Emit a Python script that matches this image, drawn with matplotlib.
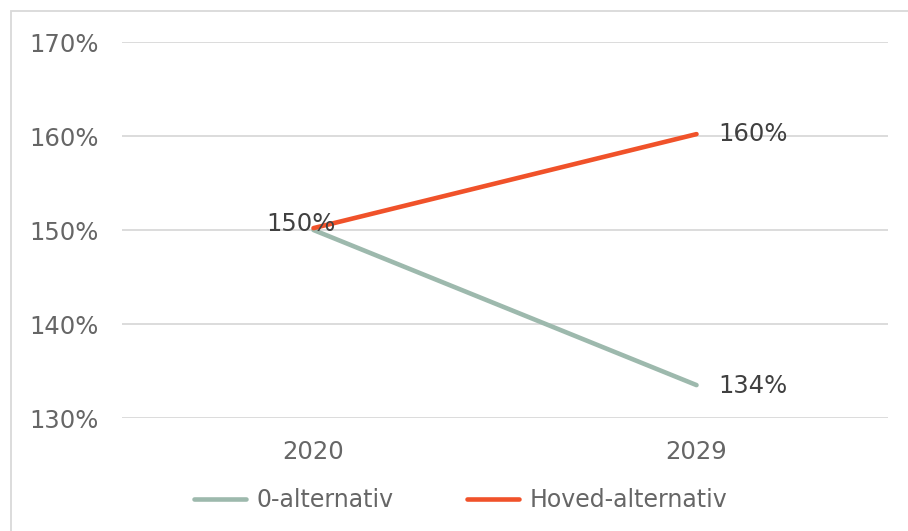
import matplotlib
matplotlib.use("Agg")
import matplotlib.pyplot as plt
from matplotlib.patches import Rectangle

years = ["2020", "2029"]
null_alt = [150.0, 133.5]
hoved_alt = [150.2, 160.2]
null_labels = [None, "134%"]
hoved_labels = ["150%", "160%"]
yticks = [130, 140, 150, 160, 170]

plt.rcParams['font.family'] = ['DejaVu Sans']
fig = plt.figure(figsize=(9.08, 5.31), dpi=100)
ax = fig.add_axes([122/908, 1-418/531, (888-122)/908, (418-42)/531])

c_null = "#9DB9AD"
c_hoved = "#F0522A"
x = list(range(len(years)))
ax.plot(x, null_alt, color=c_null, lw=3.3, solid_capstyle='round', label="0-alternativ", zorder=3)
ax.plot(x, hoved_alt, color=c_hoved, lw=3.3, solid_capstyle='round', label="Hoved-alternativ", zorder=3)

fs = 17.5
ax.set_xlim(-0.5, len(years)-0.5)
ax.set_ylim(130, 170)
ax.set_yticks(yticks)
ax.set_yticklabels([f"{v}%" for v in yticks])
ax.set_xticks(x)
ax.set_xticklabels(years)
ax.grid(axis='y', color='#D9D9D9', lw=1.3)
ax.set_axisbelow(True)
for s in ax.spines.values():
    s.set_visible(False)
ax.tick_params(length=0, labelsize=fs, colors='#666666')
ax.tick_params(axis='y', pad=16.5)
ax.tick_params(axis='x', pad=15.5)

lab_color = '#404040'
for i, (v, t) in enumerate(zip(hoved_alt, hoved_labels)):
    if t is None:
        continue
    if i == 0:
        ax.annotate(t, (i, v), xytext=(-9, 3), textcoords='offset points',
                    ha='center', va='center', fontsize=fs, color=lab_color, zorder=4)
    else:
        ax.annotate(t, (i, v), xytext=(16, 0), textcoords='offset points',
                    ha='left', va='center', fontsize=fs, color=lab_color, zorder=4)
for i, (v, t) in enumerate(zip(null_alt, null_labels)):
    if t is None:
        continue
    ax.annotate(t, (i, v), xytext=(16, -1), textcoords='offset points',
                ha='left', va='center', fontsize=fs, color=lab_color, zorder=4)

leg = fig.legend(loc='center', bbox_to_anchor=(0.507, 0.058), ncol=2, frameon=False,
                 fontsize=17, handlelength=2.2, handletextpad=0.45, columnspacing=3.1)
for t in leg.get_texts():
    t.set_color('#666666')
for h in leg.get_lines():
    h.set_linewidth(3.3)

fig.patches.append(Rectangle((11/908, -0.05), 1.1, 1-11/531+0.05, transform=fig.transFigure,
                             fill=False, edgecolor='#D9D9D9', lw=1.3))

fig.savefig("out.png", dpi=100)
